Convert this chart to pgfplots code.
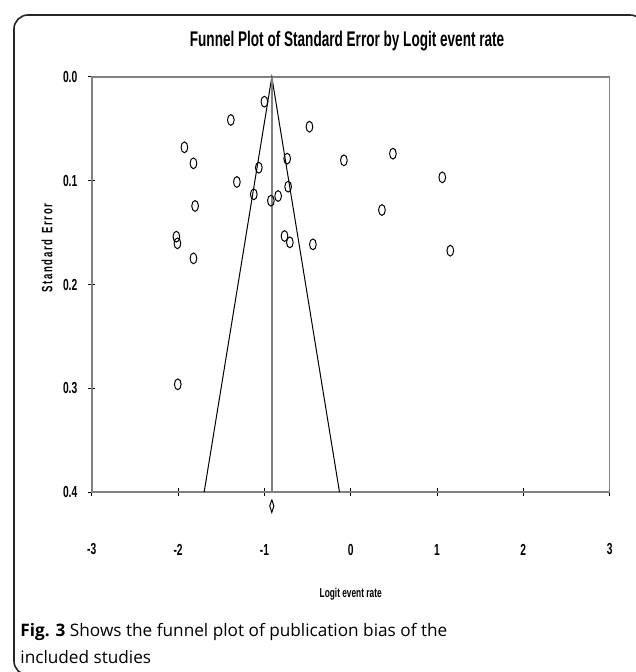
\documentclass[border=0pt]{standalone}
\usepackage{fontspec}
\usepackage{pgfplots}
\pgfplotsset{compat=1.18}
\setmainfont{Liberation Sans}
\newfontfamily\narrowfont[FakeStretch=0.64]{Liberation Sans}
\newfontfamily\capfont{Open Sans}
\newcommand{\ks}{\kern0.8pt}
\begin{document}
\begin{tikzpicture}
\useasboundingbox (0,0) rectangle (317.5pt,-336pt);
\draw[line width=0.8pt, rounded corners=7pt, black!85] (7pt,-7.5pt) rectangle (322pt,-337.5pt);
\begin{axis}[
  at={(45.9pt,-38.5pt)}, anchor=north west,
  scale only axis, width=258.9pt, height=207.5pt,
  xmin=-3, xmax=3, ymin=0, ymax=0.4, y dir=reverse,
  clip=false,
  axis line style={gray, line width=0.8pt},
  xtick={-3,-2,-1,0,1,2,3},
  xticklabels={-3,-2,-1,0,1,2,3},
  ytick={0,0.1,0.2,0.3,0.4},
  yticklabels={0.0,0.1,0.2,0.3,0.4},
  xtick pos=bottom, ytick pos=left,
  tick align=center,
  major tick length=3.5pt,
  tick style={black, line width=0.5pt},
  xticklabel style={font=\narrowfont\bfseries\fontsize{8}{9}\selectfont, anchor=center, yshift=-27pt},
  yticklabel style={font=\narrowfont\bfseries\fontsize{8}{9}\selectfont, anchor=east, xshift=-2pt},
  title={Funnel Plot of Standard Error by Logit event rate},
  title style={at={(0.493,1.058)}, anchor=center, font=\narrowfont\bfseries\fontsize{10.6}{12}\selectfont},
  xlabel={Logit event rate},
  xlabel style={at={(0.5,-0.245)}, anchor=center, font=\narrowfont\bfseries\fontsize{6.5}{8}\selectfont},
  ylabel={S\ks t\ks a\ks n\ks d\ks a\ks r\ks d\kern3pt E\ks r\ks r\ks o\ks r},
  ylabel style={at={(-0.0864,0.588)}, anchor=center, rotate=0, font=\narrowfont\bfseries\fontsize{7.5}{9}\selectfont},
]
% funnel
\addplot[black, line width=0.5pt] coordinates {(-1.698,0.4) (-0.914,0) (-0.130,0.4)};
% mean line
\addplot[gray, line width=0.8pt] coordinates {(-0.914,0) (-0.914,0.4)};
% summary diamond
\addplot[black, line width=0.5pt] coordinates {(-0.914,0.4073) (-0.890,0.4135) (-0.914,0.4197) (-0.938,0.4135) (-0.914,0.4073)};
% studies
\addplot[only marks, mark=o, mark size=2.7pt, mark options={xscale=0.62, line width=0.5pt, black}] table {
x y
-1.000 0.0238
-1.389 0.0414
-0.478 0.0479
-1.927 0.0678
-1.822 0.0832
-1.065 0.0874
-0.736 0.0787
-0.079 0.0803
0.489 0.0739
-1.319 0.1012
-1.123 0.1131
-0.725 0.1057
-0.841 0.1147
-0.925 0.1192
-1.803 0.1243
0.362 0.1282
-2.020 0.1539
-2.008 0.1603
-0.767 0.1533
-0.705 0.1594
-0.438 0.1613
-1.822 0.1748
1.061 0.0967
1.154 0.1674
-2.004 0.2962
};
\end{axis}
\node[anchor=base west, inner sep=0pt, font=\capfont\fontsize{8.6}{13}\selectfont] at (10pt,-318pt) {\textbf{Fig. 3} Shows the funnel plot of publication bias of the};
\node[anchor=base west, inner sep=0pt, font=\capfont\fontsize{8.6}{13}\selectfont] at (10pt,-331.5pt) {included studies};
\end{tikzpicture}
\end{document}
